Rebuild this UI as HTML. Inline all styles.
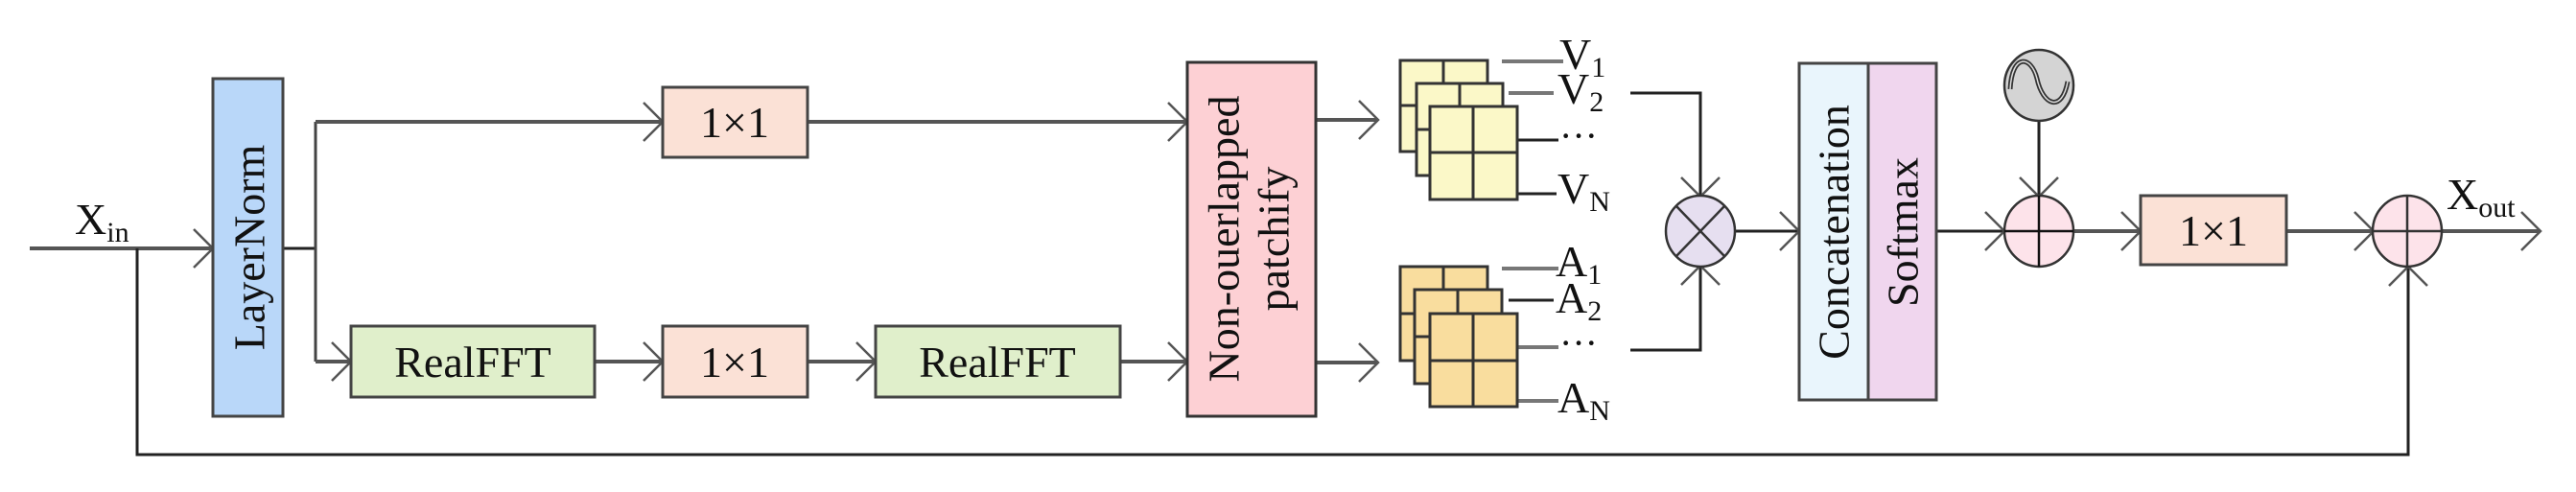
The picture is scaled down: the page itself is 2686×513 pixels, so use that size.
<!DOCTYPE html>
<html><head><meta charset="utf-8"><style>
html,body{margin:0;padding:0;background:#fff;}
svg{display:block;}
text{font-family:"Liberation Serif",serif;fill:#111;}
</style></head><body>
<svg width="2686" height="513" viewBox="0 0 2686 513" xmlns="http://www.w3.org/2000/svg">
<defs>
<marker id="ah" viewBox="-22 -22 24 44" markerWidth="24" markerHeight="44" refX="0" refY="0" orient="auto" markerUnits="userSpaceOnUse">
<path d="M-20,-20 L0,0 L-20,20" fill="none" stroke="#555" stroke-width="2.5"/>
</marker>
</defs>
<g fill="none" stroke="#555" stroke-width="4">
<!-- input -->
<line x1="31" y1="259" x2="222" y2="259" marker-end="url(#ah)"/>
<polyline points="143,259 143,474 2511,474 2511,278" stroke="#222" stroke-width="3" marker-end="url(#ah)"/>
<!-- branch -->
<line x1="295" y1="259" x2="329" y2="259" stroke="#222" stroke-width="3"/>
<polyline points="329,127 329,377" stroke="#444" stroke-width="3"/>
<line x1="329" y1="127" x2="691" y2="127" marker-end="url(#ah)"/>
<line x1="842" y1="127" x2="1238" y2="127" marker-end="url(#ah)"/>
<line x1="329" y1="377" x2="366" y2="377" marker-end="url(#ah)"/>
<line x1="620" y1="377" x2="691" y2="377" marker-end="url(#ah)"/>
<line x1="842" y1="377" x2="913" y2="377" marker-end="url(#ah)"/>
<line x1="1168" y1="377" x2="1238" y2="377" marker-end="url(#ah)"/>
<line x1="1372" y1="125" x2="1437" y2="125" marker-end="url(#ah)"/>
<line x1="1372" y1="378" x2="1437" y2="378" marker-end="url(#ah)"/>
<!-- brackets -->
<polyline points="1700,97 1773,97 1773,205" stroke="#222" stroke-width="3" marker-end="url(#ah)"/>
<polyline points="1700,365 1773,365 1773,277" stroke="#222" stroke-width="3" marker-end="url(#ah)"/>
<line x1="1809" y1="241" x2="1876" y2="241" stroke="#222" stroke-width="3" marker-end="url(#ah)"/>
<line x1="2019" y1="241" x2="2090" y2="241" stroke="#222" stroke-width="3" marker-end="url(#ah)"/>
<line x1="2126" y1="126" x2="2126" y2="205" stroke="#222" stroke-width="3" marker-end="url(#ah)"/>
<line x1="2162" y1="241" x2="2232" y2="241" marker-end="url(#ah)"/>
<line x1="2384" y1="241" x2="2475" y2="241" marker-end="url(#ah)"/>
<line x1="2547" y1="241" x2="2649" y2="241" marker-end="url(#ah)"/>
<!-- label lines V -->
<line x1="1566" y1="64" x2="1630" y2="64" stroke="#777"/>
<line x1="1573" y1="97" x2="1620" y2="97" stroke="#777"/>
<line x1="1582" y1="146" x2="1625" y2="146" stroke="#222" stroke-width="3"/>
<line x1="1582" y1="202" x2="1623" y2="202" stroke="#222" stroke-width="3"/>
<line x1="1566" y1="280" x2="1625" y2="280" stroke="#777"/>
<line x1="1573" y1="313" x2="1620" y2="313" stroke="#222" stroke-width="3"/>
<line x1="1582" y1="362" x2="1625" y2="362" stroke="#777"/>
<line x1="1582" y1="418" x2="1625" y2="418" stroke="#777"/>
</g>
<!-- boxes -->
<g stroke="#444" stroke-width="3">
<rect x="222" y="82" width="73" height="352" fill="#b9d7f9"/>
<rect x="691" y="91" width="151" height="73" fill="#fbe1d6"/>
<rect x="691" y="340" width="151" height="74" fill="#fbe1d6"/>
<rect x="366" y="340" width="254" height="74" fill="#e0efcb"/>
<rect x="913" y="340" width="255" height="74" fill="#e0efcb"/>
<rect x="1238" y="65" width="134" height="369" fill="#fdd0d4" stroke="#333"/>
<rect x="1876" y="66" width="72" height="351" fill="#e9f5fc"/>
<rect x="1948" y="66" width="71" height="351" fill="#f0d6ee"/>
<rect x="2232" y="204" width="152" height="72" fill="#fbe1d6"/>
</g>
<!-- V stacks -->
<g stroke="#333" stroke-width="3" fill="#fbf8c8">
<rect x="1460" y="63" width="91" height="95"/><line x1="1505" y1="63" x2="1505" y2="158"/><line x1="1460" y1="110" x2="1551" y2="110"/>
<rect x="1477" y="87" width="90" height="96"/><line x1="1522" y1="87" x2="1522" y2="183"/><line x1="1477" y1="135" x2="1567" y2="135"/>
<rect x="1491" y="111" width="91" height="97"/><line x1="1536" y1="111" x2="1536" y2="208"/><line x1="1491" y1="159" x2="1582" y2="159"/>
</g>
<g stroke="#333" stroke-width="3" fill="#f9dd9e">
<rect x="1460" y="278" width="91" height="98"/><line x1="1505" y1="278" x2="1505" y2="376"/><line x1="1460" y1="327" x2="1551" y2="327"/>
<rect x="1475" y="302" width="91" height="98"/><line x1="1520" y1="302" x2="1520" y2="400"/><line x1="1475" y1="351" x2="1566" y2="351"/>
<rect x="1491" y="327" width="91" height="97"/><line x1="1536" y1="327" x2="1536" y2="424"/><line x1="1491" y1="376" x2="1582" y2="376"/>
</g>
<!-- circles -->
<g stroke="#333" stroke-width="2.5">
<ellipse cx="1773" cy="241" rx="36" ry="37" fill="#e6dff0"/>
<line x1="1748" y1="215" x2="1798" y2="267"/><line x1="1798" y1="215" x2="1748" y2="267"/>
<ellipse cx="2126" cy="241" rx="36" ry="37" fill="#fde3ea"/>
<line x1="2090" y1="241" x2="2162" y2="241" stroke="#111"/><line x1="2126" y1="204" x2="2126" y2="278" stroke="#111"/>
<ellipse cx="2510" cy="241" rx="36" ry="37" fill="#fde3ea"/>
<line x1="2474" y1="241" x2="2546" y2="241"/><line x1="2510" y1="204" x2="2510" y2="278"/>
<ellipse cx="2126" cy="89" rx="36" ry="37" fill="#d4d4d4"/>
<path d="M2096,93 C2098,55 2118,58 2124,82 C2130,110 2150,118 2156,85" fill="none" stroke="#333" stroke-width="5"/>
<path d="M2096,93 C2098,55 2118,58 2124,82 C2130,110 2150,118 2156,85" fill="none" stroke="#ddd" stroke-width="1.5"/>
</g>
<!-- text -->
<g font-size="46">
<text x="78" y="244">X<tspan font-size="30" dy="8">in</tspan></text>
<text transform="translate(260,258) rotate(-90)" text-anchor="middle" dominant-baseline="central">LayerNorm</text>
<text x="766" y="143" text-anchor="middle">1×1</text>
<text x="766" y="393" text-anchor="middle">1×1</text>
<text x="493" y="393" text-anchor="middle">RealFFT</text>
<text x="1040" y="393" text-anchor="middle">RealFFT</text>
<text transform="translate(1276,249) rotate(-90)" text-anchor="middle" dominant-baseline="central">Non-ouerlapped</text>
<text transform="translate(1328,249) rotate(-90)" text-anchor="middle" dominant-baseline="central">patchify</text>
<text transform="translate(1912,242) rotate(-90)" text-anchor="middle" dominant-baseline="central">Concatenation</text>
<text transform="translate(1984,242) rotate(-90)" text-anchor="middle" dominant-baseline="central">Softmax</text>
<text x="2308" y="256" text-anchor="middle">1×1</text>
<text x="2551" y="218">X<tspan font-size="30" dy="8">out</tspan></text>
<text x="1626" y="72">V<tspan font-size="30" dy="8">1</tspan></text>
<text x="1624" y="108">V<tspan font-size="30" dy="8">2</tspan></text>
<text x="1626" y="155" font-size="40">···</text>
<text x="1624" y="212">V<tspan font-size="30" dy="8">N</tspan></text>
<text x="1622" y="288">A<tspan font-size="30" dy="8">1</tspan></text>
<text x="1622" y="326">A<tspan font-size="30" dy="8">2</tspan></text>
<text x="1626" y="371" font-size="40">···</text>
<text x="1624" y="430">A<tspan font-size="30" dy="8">N</tspan></text>
</g>
</svg>
</body></html>
